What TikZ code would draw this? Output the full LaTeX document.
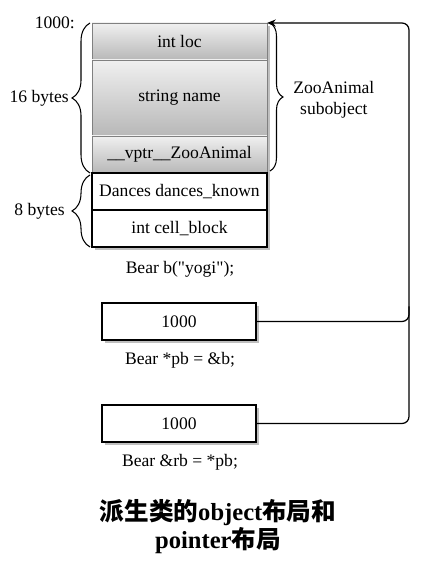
\documentclass[tikz,border=0pt]{standalone}
\usepackage{fontspec}
\setmainfont{Liberation Serif}
\newfontfamily\codefont{Liberation Serif}
\newfontfamily\cjk{Noto Sans CJK SC}
\usepackage{tikz}
\usetikzlibrary{positioning,shadows,decorations.pathreplacing,arrows.meta,calc}

\newcommand{\zh}[1]{{\cjk #1}}

\begin{document}
\begin{tikzpicture}[
    x=0.02cm, y=-0.02cm,
    node distance=0cm,
    boxshadow/.style={drop shadow={shadow xshift=0.06cm, shadow yshift=-0.06cm, fill=black!25, opacity=1}},
    field/.style={rectangle, draw=gray, line width=0.5pt, outer sep=0pt, top color=gray!12, bottom color=gray!56, minimum width=3.5cm, minimum height=0.74cm, align=center, boxshadow},
    member/.style={rectangle, draw, line width=0.7pt, outer sep=0pt, fill=white, minimum width=3.5cm, minimum height=0.74cm, align=center, boxshadow},
    ptrbox/.style={rectangle, draw, line width=0.7pt, outer sep=0pt, fill=white, minimum width=3.08cm, minimum height=0.74cm, boxshadow},
    decl/.style={inner sep=1pt, font=\codefont},
    brace/.style={decorate, decoration={brace, amplitude=0.36cm}, line width=0.6pt},
    wire/.style={line width=0.7pt, rounded corners=0.14cm},
    caption/.style={align=center, font=\fontsize{14}{16}\selectfont\bfseries}
]
\useasboundingbox (0,0) rectangle (436,573);

% Bear object: ZooAnimal part
\node[field] (loc) at (179.5,41.5) {int loc};
\node[field, minimum height=1.52cm, below=of loc] (name) {string name};
\node[field, below=of name] (vptr) {\_\_vptr\_\_ZooAnimal};

% Bear object: own members
\node[member, below=of vptr] (dances) {Dances dances\_known};
\node[member, below=of dances] (cellblock) {int cell\_block};

% Sizes and address
\node[left=0.22cm of loc.north west] (addr) {1000:};
\draw[brace] ([xshift=-0.04cm]vptr.south west) -- ([xshift=-0.04cm]loc.north west)
    node[midway, left=0.3cm] (size16) {16 bytes};
\draw[brace] ([xshift=-0.04cm]cellblock.south west) -- ([xshift=-0.04cm, yshift=-0.04cm]dances.north west)
    node[midway, left=0.38cm] (size8) {8 bytes};
\draw[brace, decoration={brace, amplitude=0.26cm}] ([xshift=0.06cm]loc.north east) -- ([xshift=0.06cm, yshift=0.04cm]vptr.south east)
    node[midway, right=0.34cm, yshift=-0.06cm, align=center] (subobj) {ZooAnimal\\subobject};

% Declarations and pointers
\node[decl] (bdecl) at (180,269) {Bear b("yogi");};
\node[ptrbox] (pb) at (179,321.5) {1000};
\node[decl] (pbdecl) at (180,360) {Bear *pb = \&b;};
\node[ptrbox] (rb) at (179,423.5) {1000};
\node[decl] (rbdecl) at (180,462) {Bear \&rb = *pb;};

% Connectors
\coordinate (bus) at (409,0);
\draw[wire, -{Stealth[length=5pt, width=4pt]}] (rb.east) -| (bus |- loc.north) -- (loc.north east);
\draw[wire] (pb.east) -| ($(pb.east -| bus)+(0,-15)$);

% Caption
\node[caption] (title) at (218,527) {\zh{派生类的}object\zh{布局和}\\pointer\zh{布局}};

\end{tikzpicture}
\end{document}
